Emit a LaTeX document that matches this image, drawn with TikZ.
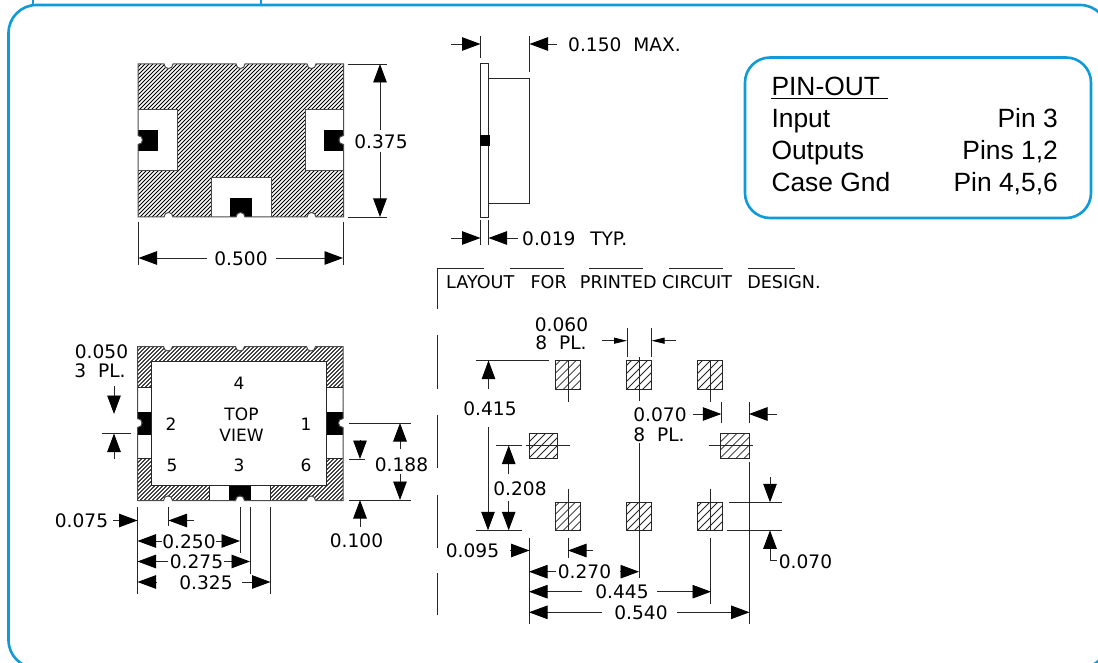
\documentclass[tikz,border=0pt]{standalone}
\usepackage{fontspec}
\setmainfont{Liberation Sans}
\newfontfamily\dimfont{DejaVu Sans}
\usetikzlibrary{arrows.meta}
\definecolor{frameblue}{HTML}{0F9BD7}
\tikzset{
  frameline/.style={draw=frameblue,line width=2.6pt},
  ln/.style={draw=black!85,line width=0.95pt},
  ar/.style={ln,-{Triangle[length=18.5pt,width=13.5pt,color=black]}},
  arsm/.style={ln,-{Triangle[length=13pt,width=6pt,color=black]}},
  dt/.style={font=\dimfont\fontsize{18.6}{20}\selectfont,inner sep=0pt,anchor=center,yshift=-0.5pt},
  pl/.style={font=\dimfont\fontsize{17}{19}\selectfont,inner sep=0pt,anchor=center},
  pin/.style={font=\fontsize{26.4}{28}\selectfont,inner sep=0pt},
  hat/.style={draw=black,line width=1pt},
  padhat/.style={draw=black!85,line width=0.75pt},
  outline/.style={draw=black!70,line width=1pt},
}
% case outline with six half-round notches: left, top, height
\newcommand{\caseoutline}[3]{(#1,#2) -- (#1+26,#2)
 .. controls (#1+26,#2+6) and (#1+35,#2+6) .. (#1+35,#2) -- (#1+98,#2)
 .. controls (#1+98,#2+6) and (#1+107,#2+6) .. (#1+107,#2) -- (#1+169,#2)
 .. controls (#1+169,#2+6) and (#1+178,#2+6) .. (#1+178,#2) -- (#1+205.5,#2)
 -- (#1+205.5,#2+#3/2-5)
 .. controls (#1+199.5,#2+#3/2-5) and (#1+199.5,#2+#3/2+4) .. (#1+205.5,#2+#3/2+4)
 -- (#1+205.5,#2+#3)
 -- (#1+178,#2+#3) .. controls (#1+178,#2+#3-6) and (#1+169,#2+#3-6) .. (#1+169,#2+#3)
 -- (#1+107,#2+#3) .. controls (#1+107,#2+#3-6) and (#1+98,#2+#3-6) .. (#1+98,#2+#3)
 -- (#1+35,#2+#3) .. controls (#1+35,#2+#3-6) and (#1+26,#2+#3-6) .. (#1+26,#2+#3)
 -- (#1,#2+#3) -- (#1,#2+#3/2+4)
 .. controls (#1+6,#2+#3/2+4) and (#1+6,#2+#3/2-5) .. (#1,#2+#3/2-5) -- cycle}
\newcommand{\layoutpad}[4]{%
  \begin{scope}
    \clip (#1,#2) rectangle (#3,#4);
    \pgfmathsetmacro{\hatA}{#1-32}
    \pgfmathsetmacro{\hatB}{#1-24}
    \foreach \x in {\hatA,\hatB,...,#3}
      \draw[padhat] (\x,#4) -- (\x+#4-#2,#2);
  \end{scope}
  \draw[ln] (#1,#2) rectangle (#3,#4);}
\begin{document}
\begin{tikzpicture}[x=1pt,y=-1pt]
\useasboundingbox (0,0) rectangle (1098,663);
\clip (0,0) rectangle (1098,663);
\fill[white] (0,0) rectangle (1098,663);
% outer frame
\draw[frameline,rounded corners=28pt] (8.5,5) rectangle (1108,668);
\draw[frameline] (33,-2) -- (33,5);
\draw[frameline] (261,-2) -- (261,5);
% ---------- bottom (pad side) view
\begin{scope}
  \clip \caseoutline{138}{64}{153};
  \foreach \x in {-20,-16,...,345}
    \draw[hat] (\x,217) -- (\x+153,64);
  \fill[white] (138,110) rectangle (177.5,171);
  \fill[white] (305,110) rectangle (344,171);
  \fill[white] (211,178) rectangle (271,218);
  \fill[black] (138,130) rectangle (158,151);
  \fill[black] (324,130) rectangle (344,151);
  \fill[black] (230,198) rectangle (252,218);
\end{scope}
\draw[outline] (138,110) -- (177.5,110) -- (177.5,171) -- (138,171);
\draw[outline] (343.5,110) -- (305,110) -- (305,171) -- (343.5,171);
\draw[outline] (211,217) -- (211,178) -- (271,178) -- (271,217);
\draw[outline] \caseoutline{138}{64}{153};
% 0.375
\draw[ln] (348,64) -- (387,64);
\draw[ln] (348,217) -- (387,217);
\node[dt] (d375) at (381,141) {0.375};
\draw[ar] (380,130) -- (380,64);
\draw[ar] (380,152) -- (380,217);
% 0.500
\draw[ln] (138.5,222) -- (138.5,265);
\draw[ln] (343,222) -- (343,265);
\node[dt] (d500) at (241,258) {0.500};
\draw[ar] (207,258) -- (138.5,258);
\draw[ar] (276,258) -- (343,258);
% ---------- side view
\draw[ln] (480.5,63) rectangle (488.5,217);
\draw[ln] (488.5,78) -- (529,78) -- (529,203) -- (488.5,203);
\fill[black] (479.5,135) rectangle (490,146);
\draw[ln] (480.5,36) -- (480.5,58);
\draw[ln] (529.5,36) -- (529.5,72);
\draw[ar] (451,44) -- (480.5,44);
\draw[ar] (557,44) -- (529.5,44);
\node[dt,anchor=west] (d150) at (568,44) {0.150~~MAX.};
\draw[ln] (480.5,220) -- (480.5,245);
\draw[ln] (488.5,220) -- (488.5,245);
\draw[ar] (451,238) -- (480.5,238);
\draw[ar] (518,238) -- (488.5,238);
\node[dt,anchor=west] (d019) at (522,238) {0.019~~\hspace{3pt}TYP.};
% ---------- layout heading and dashed break line
\draw[ln] (437.5,309) -- (437.5,268) -- (484,268);
\foreach \a/\b in {510/564,589/643,669/723,748/795}
  \draw[ln] (\a,268) -- (\b,268);
\foreach \a/\b in {335/389,415/468,495/548,573/615}
  \draw[ln] (437.5,\a) -- (437.5,\b);
\node[dt,anchor=west,font=\dimfont\fontsize{17.6}{20}\selectfont] (layout) at (446,282) {LAYOUT~~\hspace{5pt}FOR~~\hspace{2pt}PRINTED CIRCUIT~~\hspace{4pt}DESIGN.};
% ---------- top view
\begin{scope}
  \clip \caseoutline{137.5}{346.5}{154};
  \foreach \x in {-20,-16,...,345}
    \draw[hat,line width=0.95pt] (\x,500.5) -- (\x+154,346.5);
  \fill[white] (151.5,361.5) rectangle (326.5,485);
  \fill[white] (137,387.5) rectangle (152,458);
  \fill[white] (326,387.5) rectangle (344,458);
  \fill[white] (209.5,484) rectangle (270,501);
  \fill[black] (137,412) rectangle (151.5,434.5);
  \fill[black] (326.5,412) rectangle (344,434.5);
  \fill[black] (229,485) rectangle (251,501);
\end{scope}
\draw[ln] (151.5,361.5) rectangle (326.5,485);
\foreach \a/\b in {387.5/151.5,458/151.5}
  \draw[ln] (137.5,\a) -- (\b,\a);
\foreach \a in {387.5,458}
  \draw[ln] (326.5,\a) -- (343,\a);
\draw[ln] (209.5,485) -- (209.5,500.5);
\draw[ln] (270,485) -- (270,500.5);
\draw[outline] \caseoutline{137.5}{346.5}{154};
\node[pl] (p4) at (239,383.5) {4};
\node[pl] (top) at (241.5,414) {TOP};
\node[pl] (view) at (241.5,435) {VIEW};
\node[pl] (p2) at (171,424) {2};
\node[pl] (p1) at (306,424) {1};
\node[pl] (p5) at (172,465) {5};
\node[pl] (p3) at (239,465) {3};
\node[pl] (p6) at (306,465) {6};
% 0.050 3 PL.
\node[dt] (d050) at (101.5,351.5) {0.050};
\node[dt] (d3pl) at (100,370) {3~~PL.};
\draw[ln] (102,433.5) -- (131,433.5);
\draw[ar] (114,386) -- (114,414);
\draw[ar] (114,459) -- (114,433.5);
% 0.188 and 0.100
\draw[ln] (349,423) -- (411,423);
\draw[ln] (349,500) -- (411,500);
\draw[ln] (349,459) -- (365,459);
\node[dt] (d188) at (401.5,464) {0.188};
\draw[ar] (400,449) -- (400,423);
\draw[ar] (400,474) -- (400,500);
\draw[ar] (360,440) -- (360,459);
\draw[ar] (360,527) -- (360,500);
\node[dt] (d100) at (356.5,540) {0.100};
% lower dimensions
\draw[ln] (137.5,507) -- (137.5,594);
\draw[ln] (168.5,507) -- (168.5,526);
\draw[ln] (240,507) -- (240,553);
\draw[ln] (250,507) -- (250,574);
\draw[ln] (270.5,507) -- (270.5,594);
\node[dt] (d075) at (81.5,520.5) {0.075};
\draw[ar] (113,520.5) -- (137.5,520.5);
\draw[ar] (194,520.5) -- (168.5,520.5);
\node[dt] (d250) at (189,541) {0.250};
\draw[ar] (162,541) -- (137.5,541);
\draw[ar] (216,541) -- (240,541);
\node[dt] (d275) at (196.5,561.5) {0.275};
\draw[ar] (168,561.5) -- (137.5,561.5);
\draw[ar] (224,561.5) -- (250,561.5);
\node[dt] (d325) at (206,582) {0.325};
\draw[ar] (157,582) -- (137.5,582);
\draw[ar] (242,582) -- (270.5,582);
% ---------- printed circuit layout
\layoutpad{555.3}{360}{580.3}{389.3}
\layoutpad{626.7}{360}{651.7}{389.3}
\layoutpad{697.7}{360}{722.7}{389.3}
\layoutpad{555.3}{502.3}{580.3}{530.3}
\layoutpad{626.7}{502.3}{651.7}{530.3}
\layoutpad{697.7}{502.3}{722.7}{530.3}
\layoutpad{529}{433}{557.7}{458}
\layoutpad{720.3}{433}{749.3}{458}
% centre and extension lines
\draw[ln] (568,360) -- (568,402);
\draw[ln] (639,357) -- (639,400.5);
\draw[ln] (710.5,360) -- (710.5,402);
\draw[ln] (568,488.5) -- (568,530);
\draw[ln] (568,538) -- (568,558);
\draw[ln] (639,443) -- (639,578);
\draw[ln] (710.5,488.5) -- (710.5,530);
\draw[ln] (710.5,538) -- (710.5,604);
\draw[ln] (496,445.5) -- (521.5,445.5);
\draw[ln] (526,445.5) -- (570,445.5);
\draw[ln] (708.7,445.5) -- (753,445.5);
\draw[ln] (749.5,462) -- (749.5,624);
\draw[ln] (529,538) -- (529,624);
\draw[ln] (721.3,402) -- (721.3,422.7);
\draw[ln] (749,402) -- (749,422.7);
% 0.060 8 PL.
\draw[ln] (627,328) -- (627,357);
\draw[ln] (651.5,328) -- (651.5,357);
\draw[arsm] (602,340.7) -- (627,340.7);
\draw[arsm] (676,340.7) -- (651.5,340.7);
\node[dt] (d060) at (561.5,324) {0.060};
\node[dt] (d8pla) at (561,342) {8~~PL.};
% 0.415
\draw[ln] (476,360.5) -- (549,360.5);
\draw[ln] (476,530.3) -- (522,530.3);
\node[dt] (d415) at (490,408) {0.415};
\draw[ar] (488.5,389) -- (488.5,360.5);
\draw[ar] (488,427) -- (488,530.3);
% 0.208
\node[dt] (d208) at (520,488) {0.208};
\draw[ar] (508.7,474) -- (508.7,445.5);
\draw[ar] (508.7,501) -- (508.7,530.3);
% 0.095
\node[dt] (d095) at (472.5,550.5) {0.095};
\draw[ar] (510,550.5) -- (529.5,550.5);
\draw[ar] (593,550.5) -- (568,550.5);
% 0.270 0.445 0.540
\node[dt] (d270) at (584.5,571.7) {0.270};
\draw[ar] (556,571.7) -- (529,571.7);
\draw[ar] (620,571.7) -- (639,571.7);
\node[dt] (d445) at (622,591.7) {0.445};
\draw[ar] (582,591.7) -- (529,591.7);
\draw[ar] (657,591.7) -- (711,591.7);
\node[dt] (d540) at (641,612.3) {0.540};
\draw[ar] (602,612.3) -- (529,612.3);
\draw[ar] (677,612.3) -- (749.5,612.3);
% 0.070 8 PL.
\node[dt] (d070a) at (660,414) {0.070};
\node[dt] (d8plb) at (659,434) {8~~PL.};
\draw[ar] (693,414) -- (721.3,414);
\draw[ar] (777,414) -- (749,414);
% 0.070 right
\draw[ln] (729,502.3) -- (782,502.3);
\draw[ln] (727,530.3) -- (782,530.3);
\draw[ar] (770,477) -- (770,502.3);
\draw[ar] (770,560.5) -- (770,530.3);
\node[dt] (d070b) at (805.5,561.7) {0.070};
\draw[ln] (770,560.5) -- (777,560.5);
% ---------- pin-out box
\draw[frameline,fill=white,rounded corners=25pt] (745,57.5) rectangle (1091,218);
\node[pin,anchor=base west] (ph) at (771.3,95.3) {PIN-OUT};
\draw[draw=black,line width=1.2pt] (771,98.5) -- (888,98.5);
\node[pin,anchor=base west] (i) at (771.3,127.3) {Input};
\node[pin,anchor=base east] (ip) at (1058,127.3) {Pin 3};
\node[pin,anchor=base west] (o) at (771.3,159.3) {Outputs};
\node[pin,anchor=base east] (op) at (1058,159.3) {Pins 1,2};
\node[pin,anchor=base west] (c) at (771.3,191.3) {Case Gnd};
\node[pin,anchor=base east] (cp) at (1058,191.3) {Pin 4,5,6};
\end{tikzpicture}
\end{document}
